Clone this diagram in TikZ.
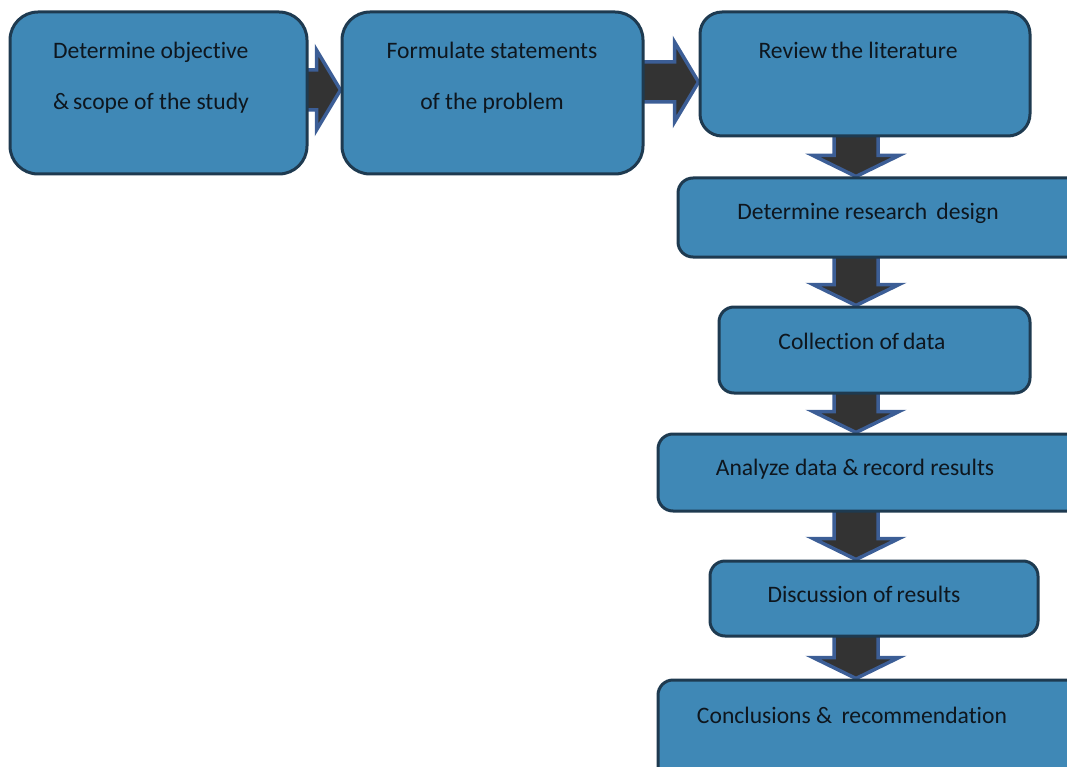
\documentclass[tikz,border=0pt]{standalone}
\usepackage{fontspec}
\setmainfont{Carlito}[Ligatures=NoCommon]
\usetikzlibrary{calc,fit,backgrounds}
\definecolor{boxfill}{RGB}{63,136,182}
\definecolor{boxline}{RGB}{30,58,80}
\definecolor{arrfill}{RGB}{51,51,51}
\definecolor{arrline}{RGB}{60,94,150}
\definecolor{txt}{RGB}{14,22,30}
\begin{document}
\begin{tikzpicture}[x=1pt,y=-1pt,
  box/.style={draw=boxline,fill=boxfill,line width=3pt,inner sep=0pt,rounded corners=15pt},
  flowarrow/.style={draw=arrline,fill=arrfill,line width=3.5pt,line join=miter},
  lbl/.style={font=\fontsize{23.6}{27}\selectfont,text=txt,inner sep=0pt,anchor=base}]
\useasboundingbox (0,0) rectangle (1067,767);
\clip (0,0) rectangle (1067,767);

\node (b1) [box, rounded corners=28pt, fit={(10,12) (307,174)}] {};
\node (b2) [box, rounded corners=28pt, fit={(342,12) (643,174)}] {};
\node (b3) [box, rounded corners=22pt, fit={(700,12) (1030,136)}] {};
\node (b4) [box, fit={(678,178) (1090,257)}] {};
\node (b5) [box, fit={(719,307) (1030,393)}] {};
\node (b6) [box, fit={(658,434) (1090,511)}] {};
\node (b7) [box, fit={(710,561) (1038,636)}] {};
\node (b8) [box, fit={(658,680) (1090,800)}] {};
\coordinate (ax) at (856,0);

\node (t1a) at (53,59) [lbl, anchor=base west] {Determine objective};
\node (t1b) at (53,110) [lbl, anchor=base west] {\&\,scope of the study};
\node (t2a) at (492,59) [lbl] {Formulate statements};
\node (t2b) at (492,110) [lbl] {of the problem};
\node (t3) at (858,59) [lbl] {Review\,the literature};
\node (t4) at (868,220) [lbl] {Determine research\, design};
\node (t5) at (862,349) [lbl] {Collection of\,data};
\node (t6) at (855,475) [lbl] {Analyze data \&\,record results};
\node (t7) at (864,602) [lbl] {Discussion of\,results};
\node (t8) at (852,723) [lbl] {Conclusions \&\, recommendation};

\begin{pgfonlayer}{background}
\foreach \a/\b/\yc in {b1/b2/90, b2/b3/82}
    {
    \draw[flowarrow] let \p1=(\a.east), \p2=(\b.west), \p3=(0,\yc) in
      (\x1-4pt,\y3+20pt) -- (\x2-24pt,\y3+20pt) -- (\x2-24pt,\y3+40pt) -- (\x2,\y3)
      -- (\x2-24pt,\y3-40pt) -- (\x2-24pt,\y3-20pt) -- (\x1-4pt,\y3-20pt) -- cycle;
    }
\foreach \a/\b in {b3/b4, b4/b5, b5/b6, b6/b7, b7/b8}
    {
    \draw[flowarrow] let \p1=(\a.south -| ax), \p2=(\b.north -| ax) in
      (\x1-22pt,\y1+4pt) -- (\x1-22pt,\y2+21pt) -- (\x1-43pt,\y2+21pt) -- (\x1,\y2)
      -- (\x1+43pt,\y2+21pt) -- (\x1+22pt,\y2+21pt) -- (\x1+22pt,\y1+4pt) -- cycle;
    }
\end{pgfonlayer}

%\node at (856,150) [lbl] {};

\end{tikzpicture}
\end{document}
